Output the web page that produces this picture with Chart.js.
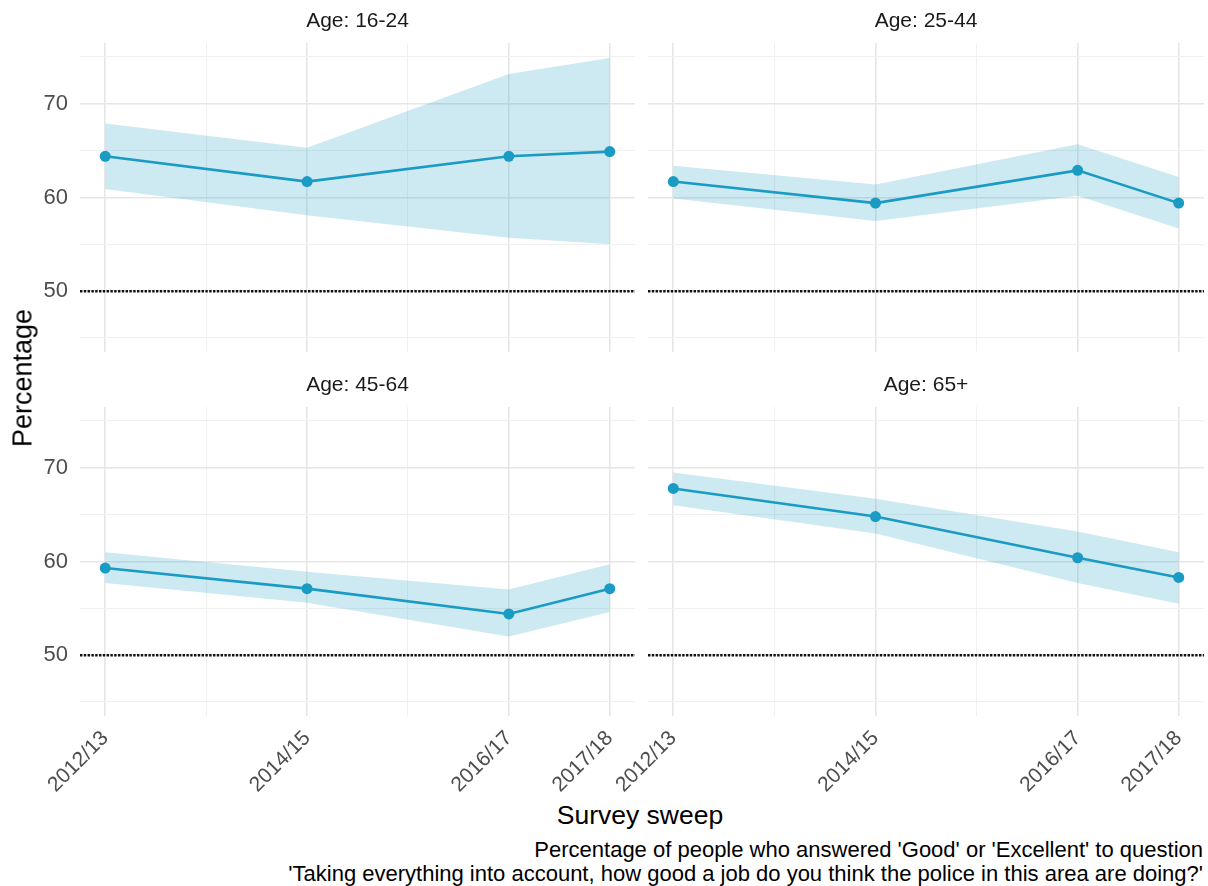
<!DOCTYPE html>
<html>
<head>
<meta charset="utf-8">
<script src="https://cdn.jsdelivr.net/npm/chart.js@4"></script>
<style>
    body { margin: 0; background: #fff; width: 1208px; height: 886px; position: relative; overflow: hidden; font-family: 'Liberation Sans', Arial, sans-serif; }
    canvas { position: absolute; }
    .ytitle { position: absolute; left: 23px; top: 378px; transform: translate(-50%, -50%) rotate(-90deg); font-size: 27px; color: #000; white-space: nowrap; }
    .xtitle { position: absolute; left: 640px; top: 815px; transform: translate(-50%, -50%); font-size: 26.5px; color: #000; white-space: nowrap; }
    .caption { position: absolute; right: 5px; top: 838px; text-align: right; font-size: 22px; line-height: 24px; color: #000; white-space: nowrap; }
</style>
</head>
<body>
<canvas id="p1" width="640" height="356" style="left:0;top:0"></canvas>
<canvas id="p2" width="568" height="356" style="left:640px;top:0"></canvas>
<canvas id="p3" width="640" height="432" style="left:0;top:364px"></canvas>
<canvas id="p4" width="648" height="432" style="left:560px;top:364px"></canvas>
<div class="ytitle">Percentage</div>
<div class="xtitle">Survey sweep</div>
<div class="caption">Percentage of people who answered 'Good' or 'Excellent' to question<br>'Taking everything into account, how good a job do you think the police in this area are doing?'</div>

<script>
// Data
const sweepYears = [2012, 2014, 2016, 2017];
const sweepLabels = ['2012/13', '2014/15', '2016/17', '2017/18'];
const gridYears = [2012, 2013, 2014, 2015, 2016, 2017];
const ageGroups = ['Age: 16-24', 'Age: 25-44', 'Age: 45-64', 'Age: 65+'];

const pct16_24 = [64.4, 61.7, 64.4, 64.9];
const low16_24 = [60.9, 58.1, 55.7, 55.0];
const high16_24 = [67.9, 65.3, 73.2, 74.9];

const pct25_44 = [61.7, 59.4, 62.9, 59.4];
const low25_44 = [59.9, 57.5, 60.2, 56.7];
const high25_44 = [63.4, 61.4, 65.7, 62.2];

const pct45_64 = [59.3, 57.1, 54.4, 57.1];
const low45_64 = [57.7, 55.6, 52.0, 54.6];
const high45_64 = [61.0, 58.9, 57.0, 59.7];

const pct65 = [67.8, 64.8, 60.4, 58.3];
const low65 = [66.0, 63.0, 57.7, 55.5];
const high65 = [69.5, 66.7, 63.2, 61.0];

const yTicks = [45, 50, 55, 60, 65, 70, 75];
const yLabelled = [50, 60, 70];
const refLevel = 50;

const xMin = 2011.75, xMax = 2017.25;
const yMin = 43.5, yMax = 76.5;

const lineColor = '#1a9bc3';
const bandColor = 'rgba(26,155,195,0.22)';

const toPoints = (vals) => sweepYears.map((yr, i) => ({x: yr, y: vals[i]}));

function makePanel(id, title, pct, low, high, showX, showY, padLeft) {
    const ctx = document.getElementById(id);
    return new Chart(ctx, {
        type: 'line',
        data: {
            datasets: [{
                // lower bound of band
                data: toPoints(low),
                borderWidth: 0,
                pointRadius: 0,
                fill: false,
                order: 2
            }, {
                data: toPoints(high),
                borderWidth: 0,
                pointRadius: 0,
                backgroundColor: bandColor,
                fill: '-1',
                order: 1
            }, {
                data: toPoints(pct),
                borderColor: lineColor,
                backgroundColor: lineColor,
                borderWidth: 2.6,
                pointRadius: 5.5,
                pointBorderWidth: 0,
                tension: 0,
                order: 0
            }, {
                // reference line at 50%
                data: [{x: xMin, y: refLevel}, {x: xMax, y: refLevel}],
                borderColor: '#111',
                borderWidth: 2.5,
                borderDash: [2.4, 1.4],
                pointRadius: 0,
                fill: false,
                order: 3
            }]
        },
        options: {
            responsive: false,
            animation: false,
            events: [],
            layout: {
                autoPadding: false,
                padding: {left: padLeft, right: showY ? 5 : 4, top: 0, bottom: showX ? 0 : 4}
            },
            scales: {
                x: {
                    type: 'linear',
                    min: xMin,
                    max: xMax,
                    afterBuildTicks: (scale) => { scale.ticks = gridYears.map(v => ({value: v})); },
                    afterFit: (scale) => {
                        scale.height = showX ? 80 : 0;
                        scale.paddingLeft = 0;
                        scale.paddingRight = 0;
                    },
                    border: { display: false },
                    grid: {
                        drawTicks: false,
                        color: (c) => sweepYears.includes(c.tick && c.tick.value) ? '#e6e6e6' : '#f0f0f0',
                        lineWidth: (c) => sweepYears.includes(c.tick && c.tick.value) ? 1.6 : 1.1
                    },
                    ticks: {
                        display: showX,
                        minRotation: 45,
                        maxRotation: 45,
                        autoSkip: false,
                        padding: 10,
                        color: '#4d4d4d',
                        font: { family: 'Liberation Sans', size: 21 },
                        callback: (v) => {
                            const i = sweepYears.indexOf(v);
                            return i >= 0 ? sweepLabels[i] : '';
                        }
                    }
                },
                y: {
                    type: 'linear',
                    min: yMin,
                    max: yMax,
                    afterBuildTicks: (scale) => { scale.ticks = yTicks.map(v => ({value: v})); },
                    afterFit: (scale) => {
                        scale.width = showY ? 80 : 0;
                        scale.paddingTop = 0;
                        scale.paddingBottom = 0;
                    },
                    border: { display: false },
                    grid: {
                        drawTicks: false,
                        color: (c) => yLabelled.includes(c.tick && c.tick.value) ? '#e6e6e6' : '#f0f0f0',
                        lineWidth: (c) => yLabelled.includes(c.tick && c.tick.value) ? 1.6 : 1.1
                    },
                    ticks: {
                        display: showY,
                        padding: 12,
                        color: '#4d4d4d',
                        font: { family: 'Liberation Sans', size: 22 },
                        callback: (v) => yLabelled.includes(v) ? String(v) : ''
                    }
                }
            },
            plugins: {
                legend: { display: false },
                tooltip: { enabled: false },
                title: {
                    display: true,
                    fullSize: false,
                    text: title,
                    color: '#1a1a1a',
                    font: { family: 'Liberation Sans', size: 21, weight: 'normal', lineHeight: 1.2 },
                    padding: { top: 9, bottom: 8.8 }
                }
            }
        }
    });
}

makePanel('p1', ageGroups[0], pct16_24, low16_24, high16_24, false, true, 0);
makePanel('p2', ageGroups[1], pct25_44, low25_44, high25_44, false, false, 8);
makePanel('p3', ageGroups[2], pct45_64, low45_64, high45_64, true, true, 0);
makePanel('p4', ageGroups[3], pct65, low65, high65, true, false, 88);
</script>
</body>
</html>
